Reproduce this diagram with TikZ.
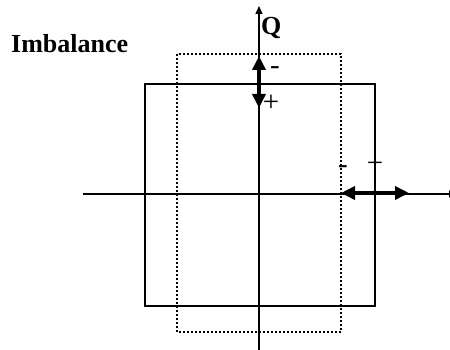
\documentclass[tikz,border=0pt]{standalone}
\usepackage{fontspec}
\setmainfont{Liberation Serif}
\usetikzlibrary{arrows.meta}
\begin{document}
\begin{tikzpicture}[x=1pt,y=-1pt,
  axisline/.style={line width=1.5pt,black},
  solidbox/.style={line width=1.5pt,black},
  dotbox/.style={line width=2pt,dash pattern=on 2pt off 2pt},
  bigarrow/.style={line width=4pt,{Triangle[length=14pt,width=13pt]}-{Triangle[length=14pt,width=13pt]}},
  lbl/.style={font=\fontsize{29}{32}\selectfont,inner sep=0pt,anchor=base},
  blbl/.style={font=\fontsize{26}{30}\selectfont\bfseries,inner sep=0pt,anchor=base west}
]
\useasboundingbox (0,0) rectangle (450,350);
\clip (0,0) rectangle (450,350);
% solid square and dotted rectangle
\draw[solidbox] (145,84) rectangle (375,306);
\draw[dotbox] (177,54) rectangle (341,332);
% axes
\coordinate (xs) at (83,194);
\coordinate (xe) at (457,194);
\coordinate (ys) at (259,350);
\coordinate (ye) at (259,6);
\draw[axisline,-{Triangle[length=8pt,width=7pt]}] (xs) -- (xe);
\draw[axisline,-{Triangle[length=8pt,width=7pt]}] (ys) -- (ye);
% double arrows
\coordinate (va) at (259,56);
\coordinate (vb) at (259,108);
\coordinate (ha) at (341,193);
\coordinate (hb) at (409,193);
\draw[bigarrow] (va) -- (vb);
\draw[bigarrow] (ha) -- (hb);
% labels
\node[blbl] (imb) at (11,53) {Imbalance};
\node[blbl] (q) at (261,35) {Q};
\node[lbl] (vm) at (275,75) {-};
\node[lbl] (vp) at (271,112) {+};
\node[lbl] (hm) at (343,174) {-};
\node[lbl] (hp) at (375,172) {+};
\end{tikzpicture}
\end{document}
